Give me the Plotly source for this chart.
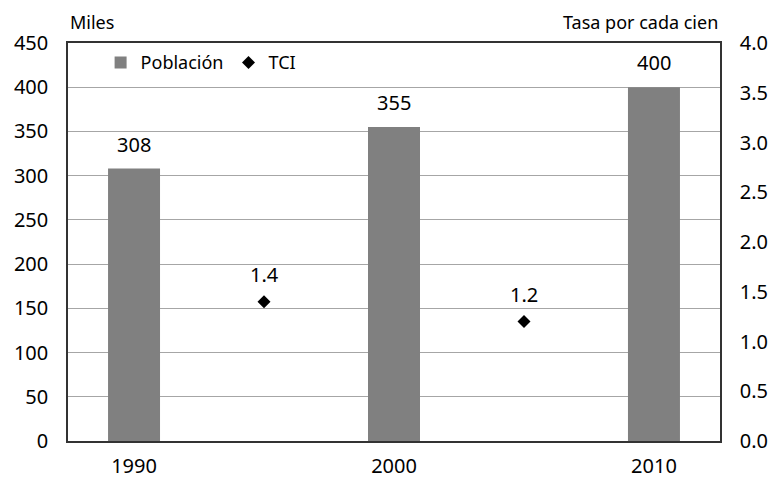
import plotly.graph_objects as go

years = [1990, 2000, 2010]
poblacion = [308, 355, 400]
tci_years = [1995, 2005]
tci = [1.4, 1.2]
tci_labels = ["1.4", "1.2"]

FONT = "Noto Sans"

fig = go.Figure()
fig.add_trace(go.Bar(
    x=years, y=poblacion, name="Población", width=2,
    marker=dict(color="#808080", line=dict(width=0)),
))
fig.add_trace(go.Scatter(
    x=tci_years, y=tci, name="TCI", mode="markers", yaxis="y2",
    marker=dict(symbol="diamond", color="black", size=10),
))

annotations = [
    dict(text="Miles", x=0, y=1, xref="paper", yref="paper", xanchor="left", yanchor="bottom",
         yshift=7, showarrow=False, font=dict(family=FONT, size=18)),
    dict(text="Tasa por cada cien", x=1, y=1, xref="paper", yref="paper", xanchor="right",
         yanchor="bottom", yshift=7, showarrow=False, font=dict(family=FONT, size=18)),
]
for xv, yv in zip(years, poblacion):
    annotations.append(dict(text=str(yv), x=xv, y=yv, xref="x", yref="y", xanchor="center",
                            yanchor="bottom", yshift=9, showarrow=False,
                            font=dict(family=FONT, size=20)))
for xv, yv, lab in zip(tci_years, tci, tci_labels):
    annotations.append(dict(text=lab, x=xv, y=yv, xref="x", yref="y2", xanchor="center",
                            yanchor="bottom", yshift=12, showarrow=False,
                            font=dict(family=FONT, size=20)))

fig.update_layout(
    width=770, height=481,
    margin=dict(l=68, r=50, t=43, b=40, autoexpand=False),
    paper_bgcolor="white", plot_bgcolor="white",
    font=dict(family=FONT, size=20, color="black"),
    showlegend=True,
    legend=dict(orientation="h", x=0.05, y=0.997, xanchor="left", yanchor="top",
                font=dict(family=FONT, size=18), bgcolor="rgba(0,0,0,0)",
                itemwidth=30, traceorder="normal"),
    xaxis=dict(range=[1987.46, 2012.54], tickvals=years, ticktext=["1990", "2000", "2010"],
               showgrid=False, showline=True, linecolor="#333", linewidth=1.5,
               mirror=True, ticks="", zeroline=False, ticklabelstandoff=6, automargin=False),
    yaxis=dict(range=[0, 450], dtick=50, showgrid=True, gridcolor="#a6a6a6", gridwidth=1,
               showline=True, linecolor="#333", linewidth=1.5, ticks="", zeroline=False,
               ticklabelstandoff=14, automargin=False),
    yaxis2=dict(range=[0, 4.0], dtick=0.5, tickformat=".1f", overlaying="y", side="right",
                showgrid=False, showline=True, linecolor="#333", linewidth=1.5, ticks="",
                zeroline=False, ticklabelstandoff=14, automargin=False),
    annotations=annotations,
)

fig.write_html("out.html", config={"displayModeBar": False},
               post_script="document.body.style.margin='0';document.body.style.overflow='hidden';")
